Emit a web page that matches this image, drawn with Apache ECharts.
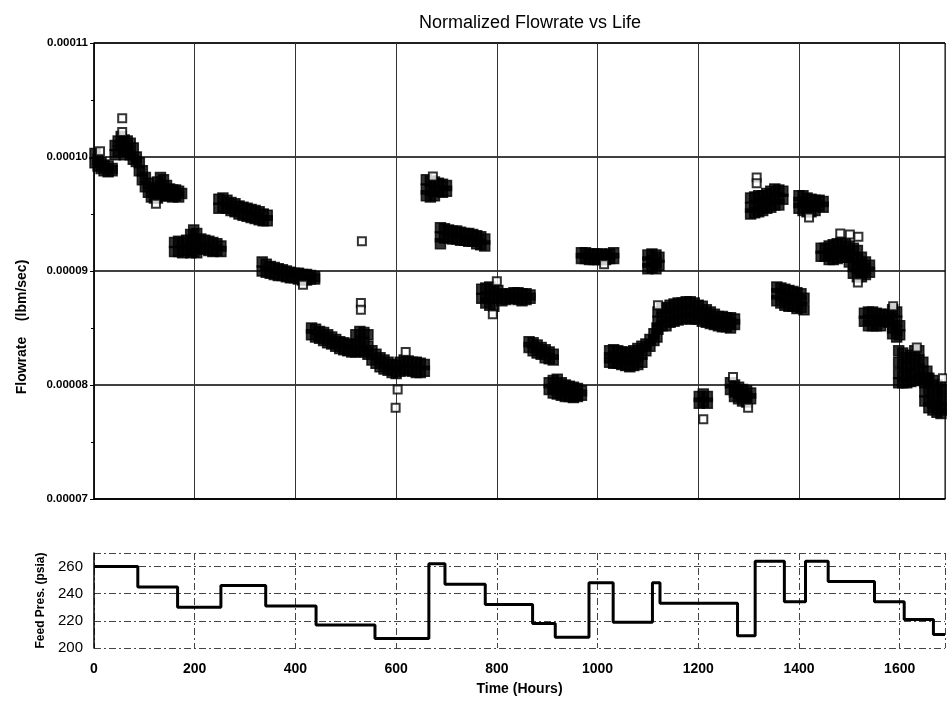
<!DOCTYPE html>
<html>
<head>
<meta charset="utf-8">
<script src="https://cdn.jsdelivr.net/npm/echarts@6/dist/echarts.min.js"></script>
<style>
  html, body { margin: 0; padding: 0; background: #fff; }
  #chart { width: 947px; height: 701px; }
</style>
</head>
<body>
<div id="chart"></div>
<script>
// flowrate readings, units of 1e-5 lbm/sec
// each row: [hours, value, value, ...] (overlapping readings that print as solid blobs)
const flowRows = [
  [2, 10.03, 9.95], [8, 9.98, 9.92], [14, 9.95, 9.9], [20, 9.93, 9.88], [28, 9.92, 9.87], [36, 9.9, 9.88],
  [42, 10.1, 10.02], [48, 10.14, 10.05], [54, 10.18, 10.1], [60, 10.15, 10.08, 10.02], [66, 10.14, 10.05],
  [72, 10.12, 10.02], [78, 10.08, 9.98], [84, 10.0, 9.96], [90, 9.95, 9.88], [96, 9.88, 9.8],
  [102, 9.82, 9.74], [108, 9.77, 9.69], [114, 9.73, 9.65], [120, 9.71, 9.64], [126, 9.78, 9.7, 9.64],
  [132, 9.82, 9.74, 9.66], [138, 9.8, 9.72, 9.66], [144, 9.75, 9.68], [150, 9.72, 9.66], [156, 9.71, 9.65],
  [162, 9.71, 9.66], [168, 9.7, 9.65], [174, 9.68],
  [160, 9.25, 9.17], [168, 9.26, 9.17], [176, 9.25, 9.16], [184, 9.27, 9.18], [192, 9.32, 9.24, 9.16],
  [198, 9.36, 9.27, 9.17], [204, 9.33, 9.24, 9.16], [212, 9.28, 9.2], [220, 9.27, 9.19], [228, 9.26, 9.18],
  [236, 9.25, 9.17], [244, 9.24, 9.18], [252, 9.22, 9.17],
  [248, 9.63, 9.55], [256, 9.64, 9.56], [264, 9.62, 9.55], [272, 9.6, 9.53], [280, 9.59, 9.52],
  [288, 9.57, 9.5], [296, 9.56, 9.49], [304, 9.55, 9.48], [312, 9.54, 9.47], [320, 9.53, 9.46],
  [328, 9.52, 9.45], [336, 9.5, 9.44], [344, 9.49, 9.44],
  [334, 9.08, 9.0], [342, 9.06, 8.99], [350, 9.04, 8.98], [358, 9.03, 8.97], [366, 9.02, 8.96],
  [374, 9.01, 8.96], [382, 9.0, 8.95], [390, 8.99, 8.94], [398, 8.98, 8.94], [406, 8.98, 8.93],
  [414, 8.97, 8.92], [422, 8.97, 8.92], [430, 8.96, 8.93], [438, 8.95, 8.93],
  [432, 8.5, 8.44], [440, 8.49, 8.42], [448, 8.47, 8.41], [456, 8.46, 8.39], [464, 8.44, 8.37],
  [472, 8.42, 8.36], [480, 8.4, 8.34], [488, 8.38, 8.32], [496, 8.37, 8.31], [504, 8.36, 8.3],
  [512, 8.35, 8.29], [520, 8.44, 8.36, 8.29], [528, 8.47, 8.38, 8.3], [536, 8.46, 8.37, 8.29],
  [544, 8.44, 8.34, 8.27],
  [552, 8.3, 8.22], [560, 8.27, 8.19], [568, 8.24, 8.16], [576, 8.22, 8.14], [584, 8.2, 8.13],
  [592, 8.18, 8.11], [600, 8.17, 8.1], [608, 8.2, 8.12], [616, 8.22, 8.14], [624, 8.21, 8.13],
  [632, 8.2, 8.12], [640, 8.2, 8.11], [648, 8.19, 8.11], [656, 8.18, 8.12],
  [660, 9.8, 9.72, 9.66], [668, 9.79, 9.71, 9.65], [676, 9.78, 9.7, 9.66], [684, 9.77, 9.7],
  [692, 9.76, 9.69], [700, 9.75, 9.7],
  [688, 9.38, 9.3, 9.24], [696, 9.37, 9.29], [704, 9.36, 9.29], [712, 9.35, 9.28], [720, 9.35, 9.28],
  [728, 9.34, 9.27], [736, 9.33, 9.27], [744, 9.33, 9.26], [752, 9.32, 9.26], [760, 9.31, 9.24],
  [768, 9.3, 9.23], [776, 9.28, 9.22],
  [770, 8.84, 8.76], [778, 8.85, 8.77, 8.72], [786, 8.86, 8.78, 8.7], [794, 8.84, 8.76, 8.69],
  [802, 8.83, 8.76], [810, 8.8, 8.74], [818, 8.79, 8.75], [826, 8.8, 8.76], [834, 8.81, 8.76],
  [842, 8.81, 8.75], [850, 8.8, 8.74], [858, 8.8, 8.75], [866, 8.79, 8.76],
  [864, 8.38, 8.33], [872, 8.37, 8.3], [880, 8.35, 8.28], [888, 8.33, 8.27], [896, 8.31, 8.24],
  [904, 8.29, 8.23], [912, 8.27, 8.22],
  [904, 8.02, 7.96], [912, 8.04, 7.97, 7.93], [920, 8.05, 7.98, 7.92], [928, 8.02, 7.96, 7.91],
  [936, 8.0, 7.95, 7.9], [944, 7.99, 7.94, 7.9], [952, 7.98, 7.93, 7.89], [960, 7.97, 7.92, 7.9],
  [968, 7.95, 7.91],
  [968, 9.16, 9.11], [976, 9.16, 9.11], [984, 9.15, 9.1], [992, 9.15, 9.1], [1000, 9.15, 9.1],
  [1008, 9.15, 9.1], [1016, 9.14, 9.1], [1024, 9.15, 9.11], [1032, 9.16, 9.11],
  [1100, 9.14, 9.08, 9.02], [1108, 9.15, 9.09, 9.03], [1116, 9.14, 9.08, 9.02], [1122, 9.12, 9.05],
  [1024, 8.3, 8.24, 8.2], [1032, 8.31, 8.25, 8.19], [1040, 8.3, 8.24, 8.19], [1048, 8.29, 8.23, 8.18],
  [1056, 8.29, 8.22, 8.17], [1064, 8.28, 8.21, 8.16], [1072, 8.3, 8.24, 8.17], [1080, 8.32, 8.25, 8.18],
  [1088, 8.34, 8.27, 8.2], [1096, 8.36, 8.3], [1104, 8.4, 8.34], [1112, 8.45, 8.39], [1118, 8.5, 8.42],
  [1120, 8.64, 8.56, 8.49], [1128, 8.67, 8.59, 8.52], [1136, 8.68, 8.6, 8.52], [1144, 8.7, 8.62, 8.55],
  [1152, 8.71, 8.63, 8.56], [1160, 8.72, 8.65, 8.57], [1168, 8.72, 8.65, 8.58], [1176, 8.73, 8.66, 8.59],
  [1184, 8.73, 8.66, 8.58], [1192, 8.72, 8.64, 8.58], [1200, 8.7, 8.63, 8.58], [1208, 8.69, 8.62, 8.56],
  [1216, 8.66, 8.6, 8.55], [1224, 8.64, 8.58, 8.54], [1232, 8.62, 8.57, 8.53], [1240, 8.6, 8.56, 8.52],
  [1248, 8.6, 8.55, 8.51], [1256, 8.59, 8.55, 8.51], [1264, 8.59, 8.54, 8.5], [1272, 8.58, 8.53],
  [1202, 7.9, 7.84], [1210, 7.92, 7.85], [1218, 7.9, 7.84],
  [1264, 8.02, 7.96], [1272, 8.0, 7.94, 7.9], [1280, 7.98, 7.93, 7.88], [1288, 7.96, 7.91, 7.86],
  [1296, 7.95, 7.9, 7.85], [1304, 7.93, 7.88],
  [1304, 9.64, 9.56, 9.5], [1312, 9.65, 9.57, 9.51], [1320, 9.66, 9.58, 9.52], [1328, 9.66, 9.6, 9.53],
  [1336, 9.68, 9.62, 9.55], [1344, 9.7, 9.63, 9.56], [1352, 9.72, 9.65, 9.58], [1360, 9.71, 9.64, 9.58],
  [1368, 9.7, 9.63],
  [1356, 8.86, 8.8, 8.74], [1364, 8.85, 8.79, 8.72], [1372, 8.84, 8.77, 8.7], [1380, 8.83, 8.76, 8.69],
  [1388, 8.82, 8.75, 8.69], [1396, 8.81, 8.75, 8.67], [1404, 8.8, 8.74, 8.68], [1410, 8.76, 8.66],
  [1400, 9.66, 9.6, 9.55], [1408, 9.66, 9.6, 9.53], [1416, 9.64, 9.58, 9.52], [1424, 9.63, 9.57, 9.52],
  [1432, 9.62, 9.57, 9.53], [1440, 9.62, 9.57], [1448, 9.61, 9.56],
  [1444, 9.2, 9.13], [1452, 9.2, 9.13], [1460, 9.22, 9.15, 9.1], [1468, 9.23, 9.16, 9.1],
  [1476, 9.24, 9.17, 9.11], [1484, 9.25, 9.18, 9.12], [1492, 9.24, 9.17, 9.12], [1500, 9.22, 9.14, 9.08],
  [1508, 9.2, 9.12, 9.04, 8.98], [1516, 9.18, 9.1, 9.02, 8.95], [1524, 9.12, 9.06, 9.0, 8.95],
  [1532, 9.08, 9.02, 8.97], [1540, 9.05, 8.99],
  [1530, 8.63, 8.56], [1538, 8.64, 8.57, 8.52], [1546, 8.64, 8.57, 8.52], [1554, 8.63, 8.57, 8.52],
  [1562, 8.62, 8.56, 8.52], [1570, 8.61, 8.56], [1578, 8.62, 8.55], [1586, 8.66, 8.58, 8.5, 8.45],
  [1594, 8.64, 8.56, 8.48, 8.42], [1600, 8.52, 8.44],
  [1598, 8.3, 8.2, 8.1, 8.02], [1606, 8.28, 8.18, 8.08, 8.02], [1614, 8.24, 8.16, 8.08, 8.02],
  [1622, 8.26, 8.18, 8.1, 8.03], [1630, 8.3, 8.22, 8.12, 8.04], [1638, 8.3, 8.22, 8.14, 8.06],
  [1646, 8.2, 8.12, 8.05], [1654, 8.12, 8.06],
  [1650, 8.02, 7.94, 7.86], [1658, 8.06, 7.96, 7.86, 7.8], [1666, 8.04, 7.94, 7.84, 7.78],
  [1674, 8.0, 7.9, 7.82, 7.76], [1682, 7.98, 7.88, 7.8, 7.75], [1688, 7.96, 7.86, 7.78]
];

// single readings that stand clear of the blobs: [hours, value]
const flowSingles = [
  [12, 10.05], [56, 10.34], [56, 10.22], [123, 9.59], [415, 8.88], [532, 9.26], [530, 8.72], [530, 8.66],
  [619, 8.29], [603, 7.96], [599, 7.8], [673, 9.83], [800, 8.91], [792, 8.62], [1013, 9.06], [1120, 8.7],
  [1210, 7.7], [1269, 8.07], [1299, 7.8], [1316, 9.82], [1316, 9.77], [1420, 9.47], [1482, 9.33],
  [1501, 9.32], [1518, 9.3], [1517, 8.9], [1587, 8.69], [1634, 8.33], [1686, 8.06]
];

// feed pressure steps: time the level starts and the level (psia)
const pressTimes = [0, 87, 166, 252, 341, 441, 558, 665, 697, 777, 871, 916, 983, 1031, 1109, 1124, 1278, 1313, 1371, 1413, 1458, 1550, 1609, 1667, 1690];
const pressValues = [260, 245, 230, 246, 231, 217, 207, 262, 247, 232, 218, 208, 248, 219, 248, 233, 209, 264, 234, 264, 249, 234, 221, 210, 210];

const hourMax = 1690;
const hourTicks = 200;

const font = 'Liberation Sans, Arial, sans-serif';

const densePoints = [];
flowRows.forEach(row => {
  for (let i = 1; i < row.length; i++) densePoints.push([row[0], row[i]]);
});
const pressData = pressTimes.map((t, i) => [t, pressValues[i]]);

const chart = echarts.init(document.getElementById('chart'));

const option = {
  animation: false,
  backgroundColor: '#fff',
  title: {
    text: 'Normalized Flowrate vs Life',
    left: 525,
    textAlign: 'center',
    top: 9,
    textStyle: { fontFamily: font, fontSize: 18, fontWeight: 'normal', color: '#000' }
  },
  graphic: [{
    type: 'text',
    x: 22,
    y: 327,
    rotation: Math.PI / 2,
    style: {
      text: 'Flowrate    (lbm/sec)',
      font: 'bold 14px ' + font,
      fill: '#000',
      align: 'center',
      verticalAlign: 'middle'
    }
  }],
  grid: [
    { left: 94, right: 2, top: 43, height: 456, show: true, borderColor: '#000', borderWidth: 1 },
    { left: 94, right: 2, top: 553, height: 95 }
  ],
  xAxis: [
    {
      gridIndex: 0, type: 'value', min: 0, max: hourMax, interval: hourTicks,
      axisLabel: { show: false }, axisTick: { show: false },
      axisLine: { lineStyle: { color: '#000', width: 1.5 } },
      splitLine: { show: true, lineStyle: { color: '#333', width: 1 } }
    },
    {
      gridIndex: 1, type: 'value', min: 0, max: hourMax, interval: hourTicks,
      name: 'Time (Hours)', nameLocation: 'middle', nameGap: 34,
      nameTextStyle: { fontFamily: font, fontSize: 14, fontWeight: 'bold', color: '#000' },
      axisLine: { show: false }, axisTick: { show: false },
      axisLabel: {
        fontFamily: font, fontSize: 14, fontWeight: 'bold', color: '#000', margin: 14, showMaxLabel: false,
        formatter: v => String(v)
      },
      splitLine: { show: true, lineStyle: { color: '#444', width: 1, type: [7, 3, 2, 3] } }
    }
  ],
  yAxis: [
    {
      gridIndex: 0, type: 'value', min: 7, max: 11, interval: 1,
      axisLine: { show: true, lineStyle: { color: '#000', width: 1.5 } },
      axisTick: { show: true, length: 4, lineStyle: { color: '#000' } },
      minorTick: { show: true, splitNumber: 2, length: 3, lineStyle: { color: '#000' } },
      axisLabel: {
        fontFamily: font, fontSize: 11.5, fontWeight: 'bold', color: '#000', margin: 6,
        formatter: v => (v / 100000).toFixed(5)
      },
      splitLine: { show: true, lineStyle: { color: '#000', width: 1.5 } }
    },
    {
      gridIndex: 1, type: 'value', min: 200, max: 270, interval: 20,
      name: 'Feed Pres. (psia)', nameLocation: 'middle', nameGap: 44,
      nameTextStyle: { fontFamily: font, fontSize: 12, fontWeight: 'bold', color: '#000' },
      axisLine: { show: true, lineStyle: { color: '#000', width: 1.5 } },
      axisTick: { show: false },
      axisLabel: { fontFamily: font, fontSize: 15, color: '#000', margin: 11, showMaxLabel: false },
      splitLine: { show: true, lineStyle: { color: '#444', width: 1, type: [7, 3, 2, 3] } }
    }
  ],
  series: [
    {
      name: 'Flowrate',
      type: 'scatter',
      xAxisIndex: 0, yAxisIndex: 0,
      symbol: 'rect',
      symbolSize: 10,
      itemStyle: { color: '#000', borderColor: '#000', borderWidth: 1.5 },
      data: densePoints
    },
    {
      name: 'Flowrate single',
      type: 'scatter',
      xAxisIndex: 0, yAxisIndex: 0,
      symbol: 'rect',
      symbolSize: 8,
      itemStyle: { color: '#fff', borderColor: '#000', borderWidth: 2 },
      z: 3,
      data: flowSingles
    },
    {
      name: 'Feed Pres.',
      type: 'line',
      xAxisIndex: 1, yAxisIndex: 1,
      step: 'end',
      symbol: 'none',
      lineStyle: { color: '#000', width: 3 },
      data: pressData
    }
  ]
};

chart.setOption(option);
</script>
</body>
</html>
